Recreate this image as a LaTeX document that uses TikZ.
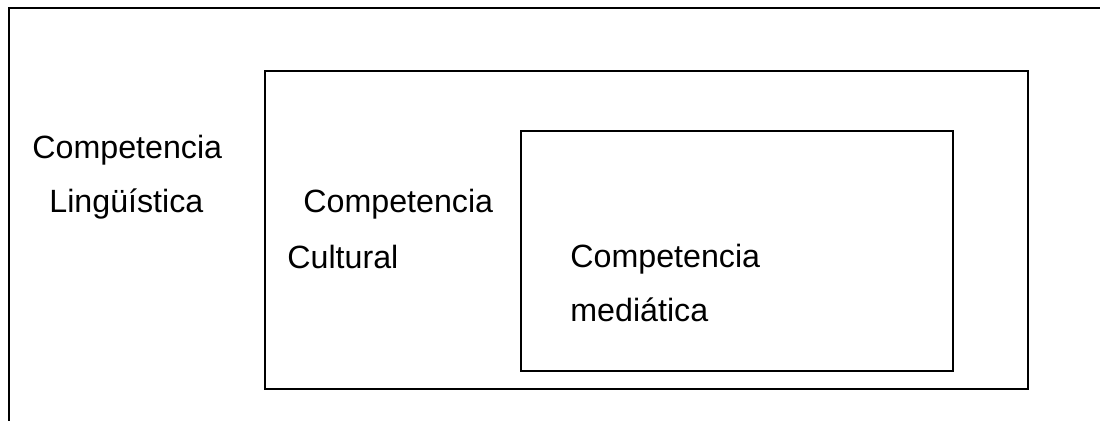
\documentclass[tikz,border=0pt]{standalone}
\usepackage{fontspec}
\setmainfont{Liberation Sans}
\begin{document}
\begin{tikzpicture}[x=0.5pt,y=-0.5pt]
\tikzset{lbl/.style = {anchor=base west, inner sep=0pt, font=\fontsize{16.1}{19}\selectfont},
         cadre/.style = {draw, line width=1pt}}
\useasboundingbox (0,0) rectangle (1100,421);
\draw[cadre] (9,421) -- (9,8.5) -- (1100,8.5);
\draw[cadre] (265,71) rectangle (1028,389);
\draw[cadre] (521,131) rectangle (953,371);
\node[lbl] (ling1) at (32,159) {Competencia};
\node[lbl] (ling2) at (49,213) {Lingüística};
\node[lbl] (cult1) at (303,213) {Competencia};
\node[lbl] (cult2) at (287,269) {Cultural};
\node[lbl] (med1) at (570,268) {Competencia};
\node[lbl] (med2) at (570,322) {mediática};
\end{tikzpicture}
\end{document}
